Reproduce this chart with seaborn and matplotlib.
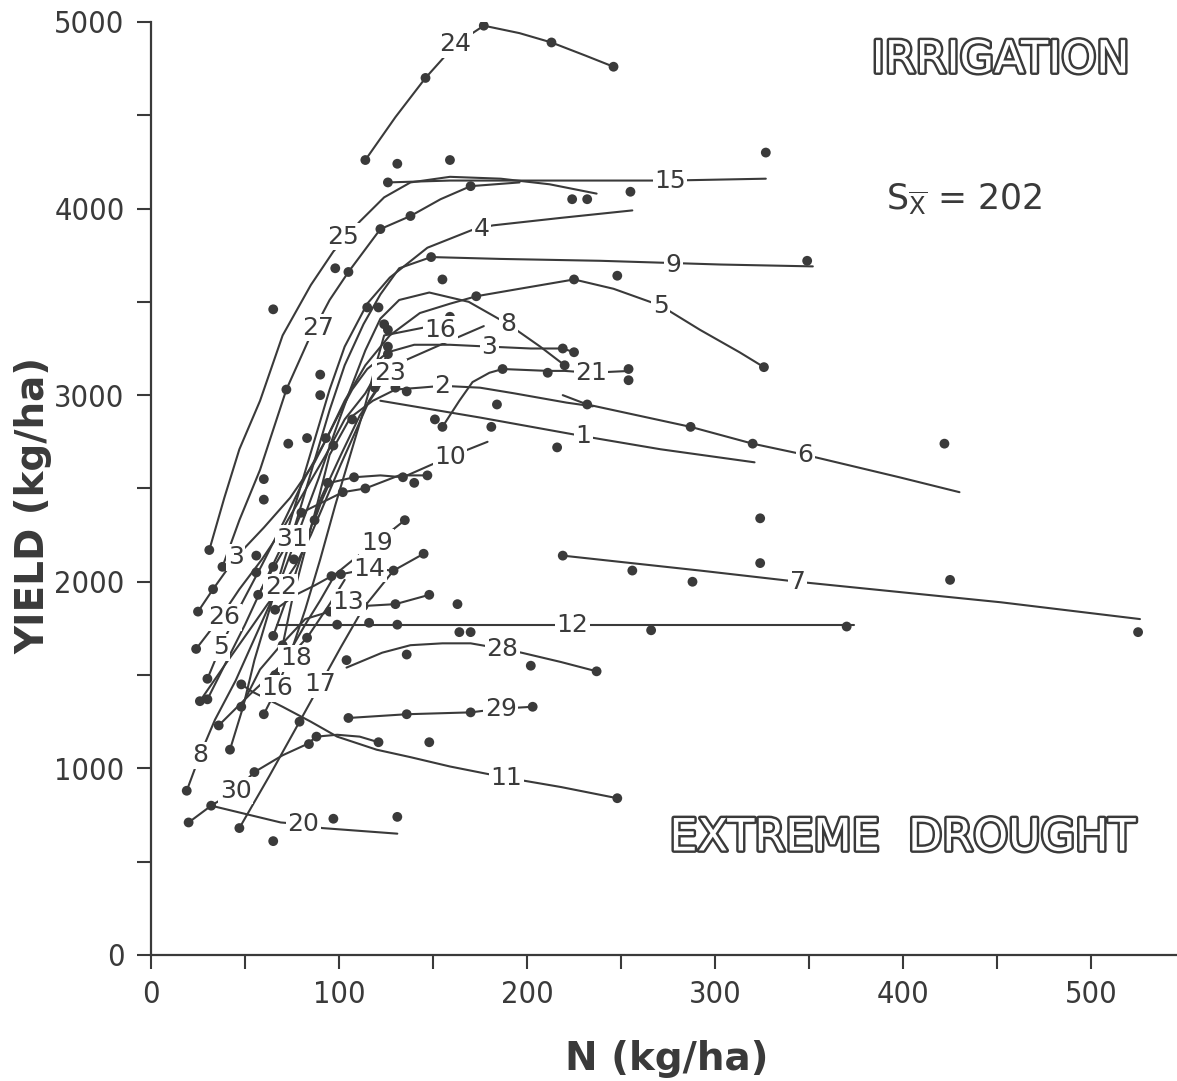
import matplotlib
matplotlib.use("Agg")
import matplotlib.pyplot as plt
import matplotlib.patheffects as pe
from matplotlib.ticker import MultipleLocator
import pandas as pd
import seaborn as sns

# ---- fitted yield response curves per site: N rate (kg/ha), yield (kg/ha) ----
site24_n = [114, 130, 146, 162, 177, 196, 213, 231, 246]
site24_y = [4260, 4490, 4700, 4880, 4980, 4940, 4890, 4820, 4760]
site15_n = [126, 159, 212, 276, 327]
site15_y = [4140, 4150, 4150, 4150, 4160]
site25_n = [31, 39, 47, 58, 70, 85, 97, 111, 124, 138, 159, 186, 212, 237]
site25_y = [2170, 2450, 2710, 2970, 3320, 3590, 3770, 3930, 4060, 4140, 4170, 4160, 4130, 4080]
site27_n = [38, 47, 58, 72, 84, 95, 105, 122, 138, 154, 170, 196]
site27_y = [2080, 2330, 2600, 3030, 3300, 3510, 3660, 3890, 3960, 4050, 4120, 4140]
site4_n = [30, 39, 50, 61, 71, 79, 87, 95, 103, 115, 127, 147, 172, 182, 218, 256]
site4_y = [1370, 1550, 1770, 2010, 2220, 2490, 2760, 3030, 3260, 3490, 3630, 3790, 3890, 3910, 3950, 3990]
site9_n = [42, 49, 55, 63, 71, 79, 87, 95, 103, 113, 122, 132, 149, 186, 239, 271, 303, 352]
site9_y = [1100, 1330, 1580, 1850, 2120, 2380, 2650, 2920, 3160, 3380, 3540, 3680, 3740, 3730, 3720, 3710, 3700, 3690]
site3_n = [25, 33, 45, 60, 74, 87, 99, 107, 115, 126, 140, 159, 180, 202, 219, 225]
site3_y = [1840, 1960, 2130, 2290, 2450, 2640, 2880, 3030, 3140, 3230, 3270, 3270, 3260, 3250, 3250, 3230]
site5_n = [30, 37, 47, 59, 71, 82, 93, 103, 114, 127, 143, 159, 173, 196, 225, 246, 271, 292, 313, 326]
site5_y = [1480, 1650, 1860, 2090, 2330, 2560, 2760, 2970, 3160, 3320, 3440, 3490, 3530, 3570, 3620, 3570, 3480, 3350, 3230, 3150]
site8_n = [19, 26, 34, 45, 57, 69, 79, 89, 98, 106, 114, 122, 132, 148, 169, 190, 207, 220]
site8_y = [880, 1070, 1260, 1470, 1740, 2010, 2280, 2550, 2810, 3030, 3240, 3410, 3510, 3550, 3500, 3380, 3260, 3160]
site16_n = [60, 67, 74, 82, 90, 98, 106, 114, 119, 124, 139, 154, 159]
site16_y = [1290, 1430, 1610, 1850, 2120, 2410, 2680, 2950, 3140, 3320, 3350, 3380, 3420]
site23_n = [65, 74, 82, 90, 101, 111, 121, 127, 136, 154, 177]
site23_y = [1710, 1960, 2200, 2440, 2680, 2890, 3040, 3120, 3190, 3270, 3370]
site2_n = [70, 75, 82, 89, 95, 106, 118, 130, 143, 155, 175, 193, 221, 235]
site2_y = [1660, 1900, 2170, 2440, 2680, 2880, 2970, 3030, 3040, 3050, 3040, 3010, 2960, 2940]
site21_n = [155, 164, 171, 180, 187, 211, 220, 234, 255]
site21_y = [2830, 2970, 3070, 3120, 3140, 3130, 3130, 3120, 3130]
site1_n = [122, 175, 230, 271, 321]
site1_y = [2970, 2880, 2780, 2710, 2640]
site6_n = [219, 232, 287, 320, 348, 398, 430]
site6_y = [3000, 2950, 2830, 2740, 2680, 2560, 2480]
site7_n = [219, 292, 344, 452, 526]
site7_y = [2140, 2060, 2000, 1890, 1800]
site12_n = [67, 132, 224, 374]
site12_y = [1770, 1770, 1770, 1770]
site13_n = [48, 58, 69, 82, 95, 105, 113, 130, 148]
site13_y = [1330, 1530, 1660, 1800, 1840, 1870, 1870, 1880, 1930]
site14_n = [66, 77, 87, 96, 101, 116, 129]
site14_y = [1850, 1930, 1980, 2030, 2040, 2070, 2060]
site17_n = [47, 63, 79, 90, 101, 113, 129, 145]
site17_y = [680, 960, 1250, 1450, 1650, 1860, 2060, 2150]
site19_n = [66, 74, 82, 90, 98, 109, 120, 135]
site19_y = [1500, 1630, 1770, 1900, 2040, 2130, 2210, 2330]
site18_n = [36, 53, 69, 83, 95, 103]
site18_y = [1230, 1400, 1550, 1700, 1880, 2010]
site22_n = [26, 39, 53, 62, 69, 77, 85, 93, 101, 109, 116, 123]
site22_y = [1360, 1550, 1750, 1880, 1970, 2090, 2250, 2440, 2630, 2810, 2970, 3080]
site26_n = [24, 37, 47, 59, 71, 82, 93, 103, 114, 126]
site26_y = [1640, 1810, 1960, 2120, 2300, 2490, 2680, 2870, 3010, 3220]
site31_n = [57, 66, 74, 80, 88, 102, 114, 132, 147]
site31_y = [1930, 2090, 2230, 2370, 2410, 2480, 2500, 2570, 2570]
site10_n = [87, 91, 95, 108, 122, 134, 152, 159, 179]
site10_y = [2330, 2440, 2530, 2560, 2570, 2560, 2640, 2670, 2750]
site30_n = [20, 32, 45, 55, 70, 83, 88, 99, 111, 121]
site30_y = [710, 800, 880, 980, 1070, 1130, 1170, 1180, 1170, 1140]
site20_n = [32, 69, 81, 91, 131]
site20_y = [800, 710, 700, 680, 650]
site11_n = [48, 54, 70, 85, 99, 120, 138, 159, 189, 218, 248]
site11_y = [1450, 1410, 1330, 1250, 1170, 1100, 1060, 1010, 950, 900, 840]
site28_n = [104, 123, 138, 155, 170, 187, 197, 218, 237]
site28_y = [1540, 1620, 1660, 1670, 1670, 1640, 1620, 1570, 1520]
site29_n = [105, 136, 170, 186, 203]
site29_y = [1270, 1290, 1300, 1320, 1330]

# ---- measured yields (dots) ----
obs24_n = [114, 146, 177, 213, 246]
obs24_y = [4260, 4700, 4980, 4890, 4760]
obs15_n = [126, 131, 159, 224, 232, 255, 327]
obs15_y = [4140, 4240, 4260, 4050, 4050, 4090, 4300]
obs25_n = [31, 65, 98]
obs25_y = [2170, 3460, 3680]
obs27_n = [38, 72, 105, 122, 138, 170]
obs27_y = [2080, 3030, 3660, 3890, 3960, 4120]
obs4_n = [30, 115, 121]
obs4_y = [1370, 3470, 3470]
obs9_n = [42, 149, 155, 248, 349]
obs9_y = [1100, 3740, 3620, 3640, 3720]
obs3_n = [25, 33, 126, 126, 219, 225]
obs3_y = [1840, 1960, 3260, 3220, 3250, 3230]
obs5_n = [30, 60, 60, 173, 225, 326]
obs5_y = [1480, 2550, 2440, 3530, 3620, 3150]
obs8_n = [19, 73, 83, 93, 97, 220]
obs8_y = [880, 2740, 2770, 2770, 2730, 3160]
obs16_n = [60, 124, 126, 159]
obs16_y = [1290, 3380, 3350, 3420]
obs23_n = [65, 90, 90, 119]
obs23_y = [1710, 3110, 3000, 3040]
obs2_n = [70, 107, 130, 136, 232]
obs2_y = [1660, 2870, 3040, 3020, 2950]
obs21_n = [155, 187, 211, 254, 254]
obs21_y = [2830, 3140, 3120, 3140, 3080]
obs1_n = [151, 181, 184, 216]
obs1_y = [2870, 2830, 2950, 2720]
obs6_n = [287, 320, 422]
obs6_y = [2830, 2740, 2740]
obs7_n = [219, 256, 288, 324, 324, 425, 525]
obs7_y = [2140, 2060, 2000, 2340, 2100, 2010, 1730]
obs12_n = [99, 116, 131, 163, 164, 170, 266, 370]
obs12_y = [1770, 1780, 1770, 1880, 1730, 1730, 1740, 1760]
obs13_n = [48, 95, 113, 130, 148]
obs13_y = [1330, 1840, 1870, 1880, 1930]
obs14_n = [66, 96, 101, 129]
obs14_y = [1850, 2030, 2040, 2060]
obs17_n = [47, 79, 145]
obs17_y = [680, 1250, 2150]
obs19_n = [66, 135]
obs19_y = [1500, 2330]
obs18_n = [36, 83]
obs18_y = [1230, 1700]
obs22_n = [26, 65, 76]
obs22_y = [1360, 2080, 2120]
obs26_n = [24, 56, 56]
obs26_y = [1640, 2050, 2140]
obs31_n = [57, 80, 102, 114, 140, 147]
obs31_y = [1930, 2370, 2480, 2500, 2530, 2570]
obs10_n = [87, 94, 108, 134]
obs10_y = [2330, 2530, 2560, 2560]
obs30_n = [20, 32, 55, 84, 88, 121, 148]
obs30_y = [710, 800, 980, 1130, 1170, 1140, 1140]
obs20_n = [65, 97, 131]
obs20_y = [610, 730, 740]
obs11_n = [48, 248]
obs11_y = [1450, 840]
obs28_n = [104, 136, 202, 237]
obs28_y = [1580, 1610, 1550, 1520]
obs29_n = [105, 136, 170, 203]
obs29_y = [1270, 1290, 1300, 1330]

x_ticks = [0, 100, 200, 300, 400, 500]
y_ticks = [0, 1000, 2000, 3000, 4000, 5000]

fits = {
    "24": (site24_n, site24_y), "15": (site15_n, site15_y), "25": (site25_n, site25_y),
    "27": (site27_n, site27_y), "4": (site4_n, site4_y), "9": (site9_n, site9_y),
    "3": (site3_n, site3_y), "5": (site5_n, site5_y), "8": (site8_n, site8_y),
    "16": (site16_n, site16_y), "23": (site23_n, site23_y), "2": (site2_n, site2_y),
    "21": (site21_n, site21_y), "1": (site1_n, site1_y), "6": (site6_n, site6_y),
    "7": (site7_n, site7_y), "12": (site12_n, site12_y), "13": (site13_n, site13_y),
    "14": (site14_n, site14_y), "17": (site17_n, site17_y), "19": (site19_n, site19_y),
    "18": (site18_n, site18_y), "22": (site22_n, site22_y), "26": (site26_n, site26_y),
    "31": (site31_n, site31_y), "10": (site10_n, site10_y), "30": (site30_n, site30_y),
    "20": (site20_n, site20_y), "11": (site11_n, site11_y), "28": (site28_n, site28_y),
    "29": (site29_n, site29_y),
}
observed = {
    "24": (obs24_n, obs24_y), "15": (obs15_n, obs15_y), "25": (obs25_n, obs25_y),
    "27": (obs27_n, obs27_y), "4": (obs4_n, obs4_y), "9": (obs9_n, obs9_y),
    "3": (obs3_n, obs3_y), "5": (obs5_n, obs5_y), "8": (obs8_n, obs8_y),
    "16": (obs16_n, obs16_y), "23": (obs23_n, obs23_y), "2": (obs2_n, obs2_y),
    "21": (obs21_n, obs21_y), "1": (obs1_n, obs1_y), "6": (obs6_n, obs6_y),
    "7": (obs7_n, obs7_y), "12": (obs12_n, obs12_y), "13": (obs13_n, obs13_y),
    "14": (obs14_n, obs14_y), "17": (obs17_n, obs17_y), "19": (obs19_n, obs19_y),
    "18": (obs18_n, obs18_y), "22": (obs22_n, obs22_y), "26": (obs26_n, obs26_y),
    "31": (obs31_n, obs31_y), "10": (obs10_n, obs10_y), "30": (obs30_n, obs30_y),
    "20": (obs20_n, obs20_y), "11": (obs11_n, obs11_y), "28": (obs28_n, obs28_y),
    "29": (obs29_n, obs29_y),
}

fit_df = pd.concat(
    [pd.DataFrame({"site": k, "n": n, "y": y}) for k, (n, y) in fits.items()],
    ignore_index=True,
)
obs_df = pd.concat(
    [pd.DataFrame({"site": k, "n": n, "y": y}) for k, (n, y) in observed.items()],
    ignore_index=True,
)

# site number labels placed along the curves (N, yield)
curve_labels = [
    ("24", 162, 4880), ("15", 276, 4150), ("25", 102, 3850), ("27", 89, 3360),
    ("4", 176, 3890), ("9", 278, 3700), ("16", 154, 3350), ("8", 190, 3380),
    ("3", 180, 3260), ("5", 271, 3480), ("23", 127, 3120), ("2", 155, 3050),
    ("21", 234, 3120), ("1", 230, 2780), ("10", 159, 2670), ("6", 348, 2680),
    ("7", 344, 2000), ("12", 224, 1770), ("28", 187, 1640), ("29", 186, 1320),
    ("11", 189, 950), ("3", 45, 2130), ("31", 75, 2230), ("19", 120, 2210),
    ("14", 116, 2070), ("22", 69, 1970), ("26", 39, 1810), ("13", 105, 1890),
    ("5", 37, 1650), ("18", 77, 1590), ("17", 90, 1450), ("16", 67, 1430),
    ("8", 26, 1070), ("30", 45, 880), ("20", 81, 700),
]

sns.set_style("ticks")
plt.rcParams["font.family"] = ["DejaVu Sans"]
plt.rcParams["mathtext.fontset"] = "dejavusans"
ink = "#3a3a3a"

fig = plt.figure(figsize=(11.77, 10.81), dpi=100)
ax = fig.add_axes([0.1283, 0.1166, 0.8717, 0.8631])

sns.lineplot(data=fit_df, x="n", y="y", units="site", estimator=None, sort=False,
             color=ink, linewidth=1.5, legend=False, ax=ax, zorder=2)
sns.scatterplot(data=obs_df, x="n", y="y", color=ink, s=50, edgecolor="none",
                legend=False, ax=ax, zorder=3)

for txt, n, y in curve_labels:
    ax.text(n, y, txt, ha="center", va="center", fontsize=18, color=ink, zorder=4,
            bbox=dict(boxstyle="square,pad=0.06", fc="white", ec="none"))

ax.set_xlim(0, 545.7)
ax.set_ylim(0, 5000)
ax.set_xticks(x_ticks)
ax.set_yticks(y_ticks)
ax.xaxis.set_minor_locator(MultipleLocator(50))
ax.yaxis.set_minor_locator(MultipleLocator(500))
ax.tick_params(which="both", direction="out", length=10, width=1.5, color=ink,
               labelsize=22, labelcolor=ink)
ax.tick_params(axis="x", pad=8)
ax.tick_params(axis="y", pad=9)
for lab in ax.get_xticklabels() + ax.get_yticklabels():
    lab.set_family(["DejaVu Sans"])
    lab.set_stretch("condensed")

sns.despine(ax=ax)
for side in ("left", "bottom"):
    ax.spines[side].set_linewidth(1.6)
    ax.spines[side].set_color(ink)

ax.set_xlabel("N (kg/ha)", fontsize=28, fontweight="bold", color=ink)
ax.set_ylabel("YIELD (kg/ha)", fontsize=28, fontweight="bold", color=ink)
ax.xaxis.set_label_coords(0.503, -0.091)
ax.yaxis.set_label_coords(-0.0965, 0.482)

outline = [pe.withStroke(linewidth=3.5, foreground=ink)]
ax.text(452, 4796, "IRRIGATION", ha="center", va="center", fontsize=32,
        color="white", path_effects=outline, zorder=5)
ax.text(400, 627, "EXTREME  DROUGHT", ha="center", va="center", fontsize=32,
        color="white", path_effects=outline, zorder=5)
ax.text(391, 4046, r"S$_{\overline{\mathrm{X}}}$ = 202", ha="left", va="center",
        fontsize=25, color=ink, zorder=5)

fig.savefig("out.png", dpi=100, facecolor="white")
